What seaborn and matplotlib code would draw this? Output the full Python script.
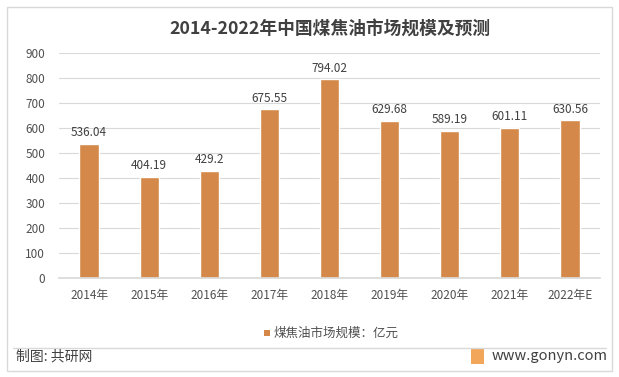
import matplotlib
matplotlib.use("Agg")
import matplotlib.pyplot as plt
import seaborn as sns
import pandas as pd
from matplotlib.patches import Rectangle
from matplotlib.lines import Line2D

years = ["2014年", "2015年", "2016年", "2017年", "2018年", "2019年", "2020年", "2021年", "2022年E"]
values = [536.04, 404.19, 429.2, 675.55, 794.02, 629.68, 589.19, 601.11, 630.56]
labels = ["536.04", "404.19", "429.2", "675.55", "794.02", "629.68", "589.19", "601.11", "630.56"]
yticks = [0, 100, 200, 300, 400, 500, 600, 700, 800, 900]
series_name = "煤焦油市场规模：亿元"
title = "2014-2022年中国煤焦油市场规模及预测"

sns.set_theme(style="white")
plt.rcParams['font.family'] = ['Noto Sans CJK SC', 'DejaVu Sans']

df = pd.DataFrame({"year": years, "value": values})
color = "#D4894A"

fig = plt.figure(figsize=(6.19, 3.77), dpi=100)
W, H = 619, 377
ax = fig.add_axes([59 / W, 1 - 278 / H, (600 - 59) / W, (278 - 53) / H])

sns.barplot(data=df, x="year", y="value", color=color, width=0.32, ax=ax, saturation=1)
ax.set_ylim(0, 900)
ax.set_xlim(-0.5, len(years) - 0.5)
ax.set_yticks(yticks)
ax.set_yticklabels([str(t) for t in yticks])
ax.yaxis.grid(True, color="#D9D9D9", linewidth=0.8)
ax.set_axisbelow(True)
for s in ["top", "right", "left"]:
    ax.spines[s].set_visible(False)
ax.spines["bottom"].set_color("#D9D9D9")
ax.set_xlabel("")
ax.set_ylabel("")
ax.tick_params(axis="both", length=0, labelsize=8.5, colors="#505050")
ax.tick_params(axis="x", pad=8)
ax.tick_params(axis="y", pad=10)
for t in ax.get_xticklabels() + ax.get_yticklabels():
    t.set_fontweight("medium")

for i, (v, lab) in enumerate(zip(values, labels)):
    ax.text(i, v + 18, lab, ha="center", va="bottom", fontsize=8.5, color="#404040")

fig.text(330 / W, 1 - 29 / H, title, ha="center", va="center", fontsize=12.8,
         fontweight="bold", color="#404040")

# legend
fig.patches.append(Rectangle((264 / W, 1 - 336 / H), 6 / W, 6 / H, transform=fig.transFigure,
                             facecolor=color, edgecolor="none"))
fig.text(274 / W, 1 - 333 / H, series_name, ha="left", va="center", fontsize=9,
         fontweight="medium", color="#505050")

# frame and separator
fig.patches.append(Rectangle((7 / W, 1 - 371 / H), 605 / W, 364 / H, transform=fig.transFigure,
                             facecolor="none", edgecolor="#D9D9D9", linewidth=1))
fig.lines.append(Line2D([13 / W, 606 / W], [1 - 348 / H, 1 - 348 / H], transform=fig.transFigure,
                        color="#D9D9D9", linewidth=1))

fig.text(16 / W, 1 - 356 / H, "制图: 共研网", ha="left", va="center", fontsize=10, color="#404040")
fig.patches.append(Rectangle((471 / W, 1 - 364 / H), 13 / W, 15 / H, transform=fig.transFigure,
                             facecolor="#F2A65A", edgecolor="none"))
fig.text(492 / W, 1 - 356 / H, "www.gonyn.com", ha="left", va="center", fontsize=10.5, color="#404040")

fig.savefig("out.png", dpi=100)
